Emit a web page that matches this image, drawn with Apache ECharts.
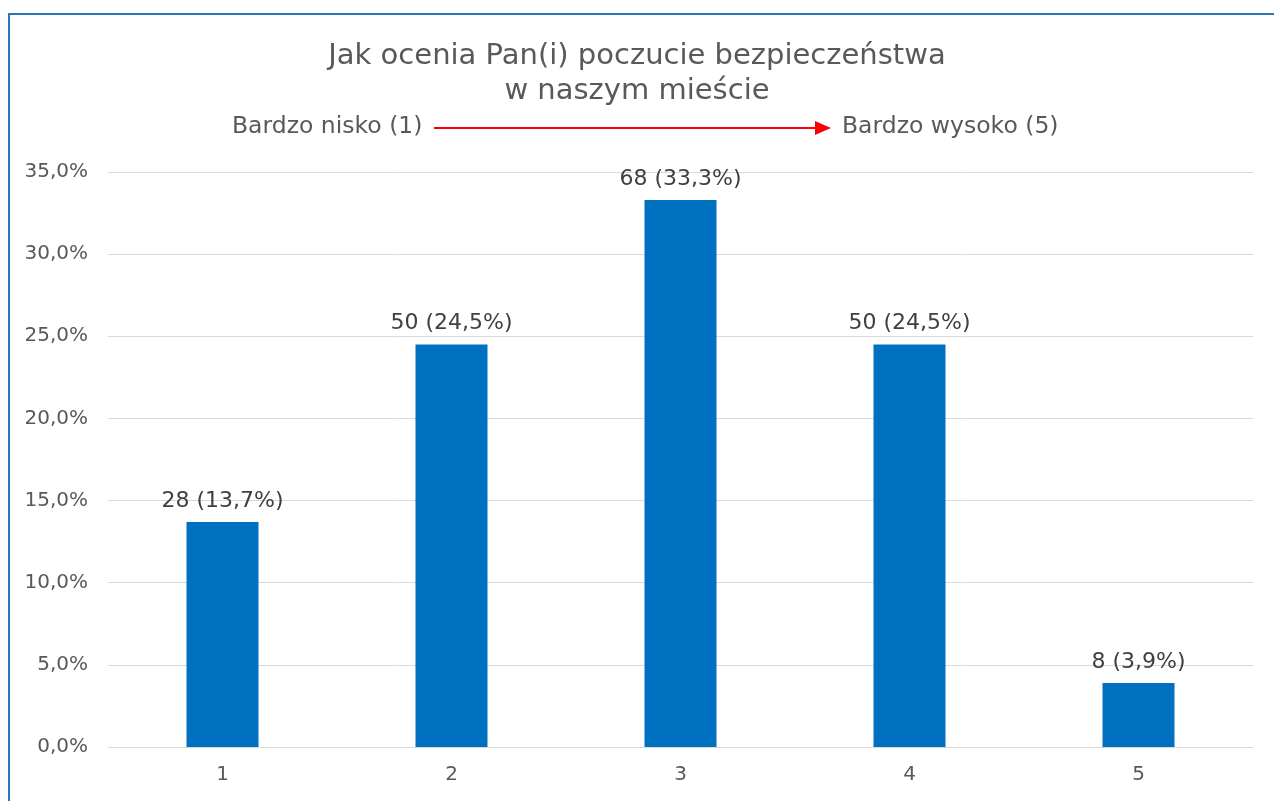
<!DOCTYPE html>
<html lang="pl">
<head>
	<meta charset="UTF-8">
	<title>Poczucie bezpieczeństwa</title>
	<style type="text/css">
		html, body { margin: 0; padding: 0; background: #fff; overflow: hidden; }
		#ramka {
			position: absolute;
			left: 8px;
			top: 13px;
			width: 1320px;
			height: 900px;
			border: 2px solid #2e75b6;
		}
		#container {
			position: absolute;
			left: 0;
			top: 0;
			width: 1274px;
			height: 801px;
		}
	</style>
	<script type="text/javascript" src="https://cdn.jsdelivr.net/npm/echarts/dist/echarts.min.js"></script>
</head>
<body>
	<div id="ramka"></div>
	<div id="container"></div>
	<script type="text/javascript">
	// dane z wykresu
	var kategorie = ['1', '2', '3', '4', '5'];
	var liczby = [28, 50, 68, 50, 8];
	var procenty = [13.7, 24.5, 33.3, 24.5, 3.9];

	var font = '"DejaVu Sans", Verdana, sans-serif';
	var dom = document.getElementById("container");
	var myChart = echarts.init(dom);

	function przecinek(v, d) {
		return v.toFixed(d).replace('.', ',');
	}

	var option = {
		animation: false,
		title: {
			text: 'Jak ocenia Pan(i) poczucie bezpieczeństwa\nw naszym mieście',
			left: 'center',
			top: 34,
			textStyle: {
				fontFamily: font,
				fontSize: 29,
				fontWeight: 'normal',
				color: '#595959',
				lineHeight: 35
			}
		},
		graphic: [
			{
				type: 'text', left: 232, top: 115,
				style: { text: 'Bardzo nisko (1)', font: '23.5px ' + font, fill: '#595959' }
			},
			{
				type: 'text', left: 842, top: 115,
				style: { text: 'Bardzo wysoko (5)', font: '23.5px ' + font, fill: '#595959' }
			},
			{
				type: 'line',
				shape: { x1: 434, y1: 128, x2: 818, y2: 128 },
				style: { stroke: '#ff0000', lineWidth: 2 }
			},
			{
				type: 'polygon',
				shape: { points: [[815, 121], [831, 128], [815, 135]] },
				style: { fill: '#ff0000' }
			}
		],
		grid: {
			left: 108,
			right: 21,
			top: 172,
			bottom: 54
		},
		xAxis: {
			type: 'category',
			data: kategorie,
			axisLine: { show: true, lineStyle: { color: '#d9d9d9', width: 1 } },
			axisTick: { show: false },
			axisLabel: { fontFamily: font, fontSize: 20, color: '#595959', margin: 18 }
		},
		yAxis: {
			type: 'value',
			min: 0,
			max: 35,
			interval: 5,
			axisLine: { show: false },
			axisTick: { show: false },
			splitLine: { lineStyle: { color: '#d9d9d9', width: 1 } },
			axisLabel: {
				fontFamily: font,
				fontSize: 20,
				color: '#595959',
				margin: 20,
				formatter: function (v) { return przecinek(v, 1) + '%'; }
			}
		},
		series: [
			{
				type: 'bar',
				data: procenty,
				barWidth: 72,
				itemStyle: { color: '#0070c0' },
				label: {
					show: true,
					position: 'top',
					distance: 10,
					fontFamily: font,
					fontSize: 22,
					color: '#404040',
					formatter: function (p) {
						return liczby[p.dataIndex] + ' (' + przecinek(p.value, 1) + '%)';
					}
				}
			}
		]
	};
	myChart.setOption(option, true);
	</script>
</body>
</html>
